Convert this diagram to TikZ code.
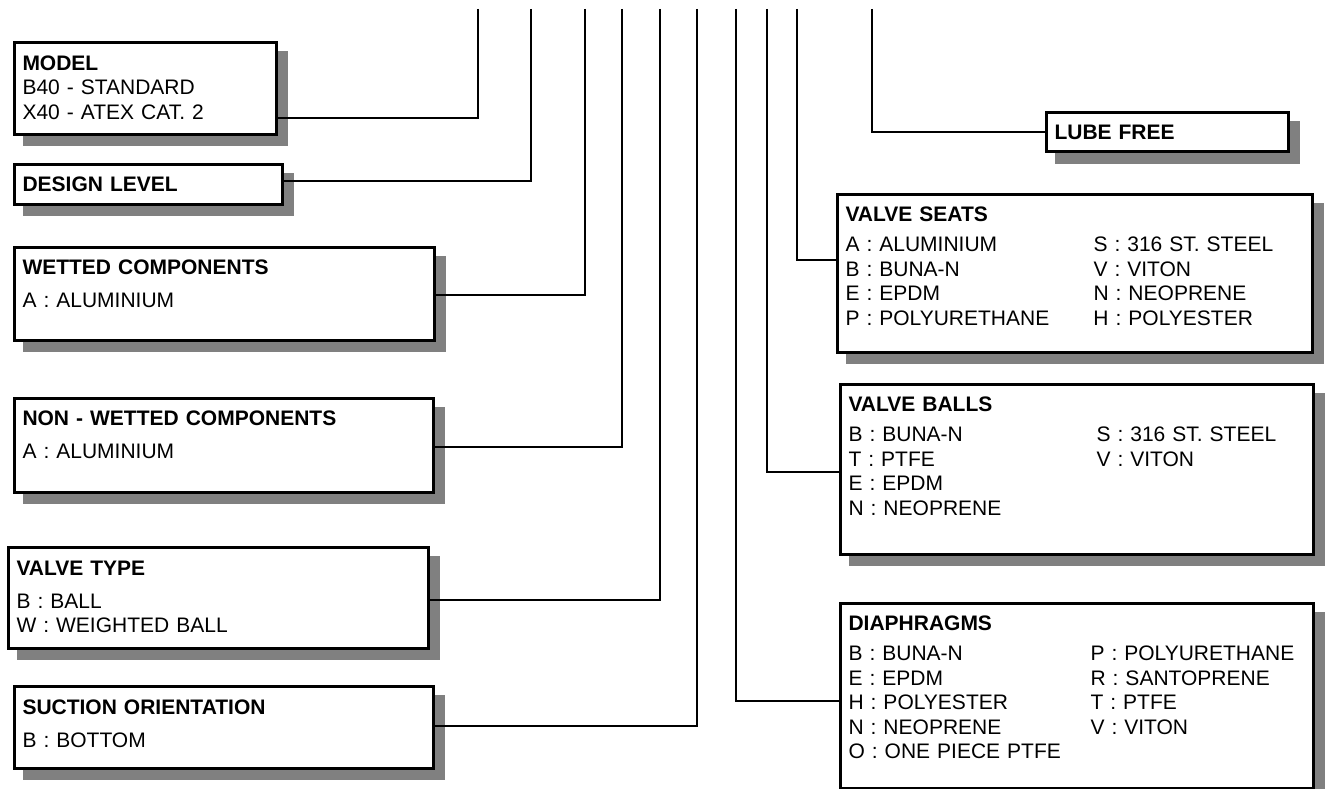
\documentclass[tikz,border=0pt]{standalone}
\usepackage{fontspec}
\setmainfont{Liberation Sans}
\usetikzlibrary{shadows}

\newcommand{\twocol}[3][248pt]{\makebox[#1][l]{#2}#3}

\begin{document}
\begin{tikzpicture}[
    x=1pt, y=-1pt,
    font=\fontsize{21}{24.5}\selectfont,
    box/.style={draw, line width=3pt, fill=white, anchor=north west, align=left,
        inner xsep=8.5pt, inner ysep=0pt, text height=27.5pt,
        drop shadow={shadow xshift=10pt, shadow yshift=-10pt, fill=black!50, draw=black!50, opacity=1}},
    link/.style={line width=2pt}
]
\useasboundingbox (0,0) rectangle (1325,789);

% option boxes, left side
\node[box, text width=245pt, text depth=64.5pt] (model) at (12.5,41.5)
    {\textbf{MODEL}\\B40 - STANDARD\\X40 - ATEX CAT. 2};
\node[box, text width=251pt, text depth=12.5pt] (design) at (12.5,162.5)
    {\textbf{DESIGN LEVEL}};
\node[box, text width=403pt, text depth=65.5pt] (wetted) at (12.5,245.5)
    {\textbf{WETTED COMPONENTS}\\[8pt]A : ALUMINIUM};
\node[box, text width=402pt, text depth=66.5pt] (nonwetted) at (12.5,396.5)
    {\textbf{NON - WETTED COMPONENTS}\\[8pt]A : ALUMINIUM};
\node[box, text width=403pt, text depth=72.5pt, text height=28.5pt] (valvetype) at (6.5,545.5)
    {\textbf{VALVE TYPE}\\[8pt]B : BALL\\W : WEIGHTED BALL};
\node[box, text width=402pt, text depth=53.5pt, text height=28.5pt] (suction) at (12.5,684.5)
    {\textbf{SUCTION ORIENTATION}\\[8pt]B : BOTTOM};

% option boxes, right side
\node[box, text width=225pt, text depth=12.5pt, text height=26.5pt] (lube) at (1044.5,111.5)
    {\textbf{LUBE FREE}};
\node[box, text width=458pt, text depth=130.5pt] (seats) at (835.5,192.5)
    {\textbf{VALVE SEATS}\\[5.5pt]
     \twocol{A : ALUMINIUM}{S : 316 ST. STEEL}\\
     \twocol{B : BUNA-N}{V : VITON}\\
     \twocol{E : EPDM}{N : NEOPRENE}\\
     \twocol{P : POLYURETHANE}{H : POLYESTER}};
\node[box, text width=456pt, text depth=142.5pt] (balls) at (838.5,382.5)
    {\textbf{VALVE BALLS}\\[5.5pt]
     \twocol{B : BUNA-N}{S : 316 ST. STEEL}\\
     \twocol{T : PTFE}{V : VITON}\\
     E : EPDM\\
     N : NEOPRENE};
\node[box, text width=456pt, text depth=157.5pt] (diaphragms) at (838.5,601.5)
    {\textbf{DIAPHRAGMS}\\[5.5pt]
     \twocol[242pt]{B : BUNA-N}{P : POLYURETHANE}\\
     \twocol[242pt]{E : EPDM}{R : SANTOPRENE}\\
     \twocol[242pt]{H : POLYESTER}{T : PTFE}\\
     \twocol[242pt]{N : NEOPRENE}{V : VITON}\\
     O : ONE PIECE PTFE};

% free ends at the top
\coordinate (model-top) at (478,9);
\coordinate (design-top) at (531,9);
\coordinate (wetted-top) at (585,9);
\coordinate (nonwetted-top) at (622,9);
\coordinate (valvetype-top) at (660,9);
\coordinate (suction-top) at (697,9);
\coordinate (diaphragms-top) at (736,9);
\coordinate (balls-top) at (767,9);
\coordinate (seats-top) at (797,9);
\coordinate (lube-top) at (872,9);

% leaders
\draw[link] (model-top) |- (model.east |- 0,118);
\draw[link] (design-top) |- (design.east |- 0,181);
\draw[link] (wetted-top) |- (wetted.east |- 0,295);
\draw[link] (nonwetted-top) |- (nonwetted.east |- 0,447);
\draw[link] (valvetype-top) |- (valvetype.east |- 0,600);
\draw[link] (suction-top) |- (suction.east |- 0,726);
\draw[link] (diaphragms-top) |- (diaphragms.west |- 0,701);
\draw[link] (balls-top) |- (balls.west |- 0,472);
\draw[link] (seats-top) |- (seats.west |- 0,260);
\draw[link] (lube-top) |- (lube.west);
\end{tikzpicture}
\end{document}
